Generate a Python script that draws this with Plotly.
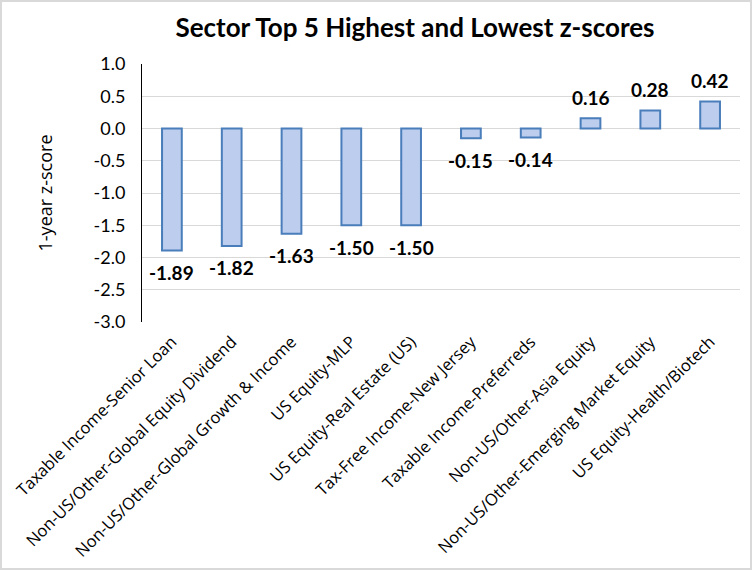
import plotly.graph_objects as go

categories = [
    "Taxable Income-Senior Loan",
    "Non-US/Other-Global Equity Dividend",
    "Non-US/Other-Global Growth & Income",
    "US Equity-MLP",
    "US Equity-Real Estate (US)",
    "Tax-Free Income-New Jersey",
    "Taxable Income-Preferreds",
    "Non-US/Other-Asia Equity",
    "Non-US/Other-Emerging Market Equity",
    "US Equity-Health/Biotech",
]
zscores = [-1.89, -1.82, -1.63, -1.50, -1.50, -0.15, -0.14, 0.16, 0.28, 0.42]
y_ticks = [1.0, 0.5, 0.0, -0.5, -1.0, -1.5, -2.0, -2.5, -3.0]

W, H = 752, 570
ML, MR, MT, MB = 142, 12, 64, 248
PW = W - ML - MR
PH = H - MT - MB

fig = go.Figure()
fig.add_trace(go.Bar(
    x=categories, y=zscores, width=0.33,
    marker=dict(color="#bccdee", line=dict(color="#4a7ebb", width=2)),
    hoverinfo="x+y",
))

for c, v in zip(categories, zscores):
    fig.add_annotation(
        x=c, y=v, text=f"<b>{v:.2f}</b>", showarrow=False,
        yanchor="middle", yshift=21 if v > 0 else -22,
        font=dict(family="Lato, sans-serif", size=19, color="#000000"),
    )

fig.add_shape(
    type="rect", xref="paper", yref="paper",
    xsizemode="pixel", ysizemode="pixel", xanchor=0, yanchor=0,
    x0=-ML + 1, x1=PW + MR - 1, y0=-MB + 1, y1=PH + MT - 1,
    line=dict(color="#d9d9d9", width=2), layer="below",
)

fig.update_layout(
    width=W, height=H,
    margin=dict(l=ML, r=MR, t=MT, b=MB, autoexpand=False),
    paper_bgcolor="white", plot_bgcolor="white",
    showlegend=False,
    bargap=0.67,
    title=dict(
        text="<b>Sector Top 5 Highest and Lowest z-scores</b>",
        x=415 / W, xanchor="center", xref="container",
        y=1 - 28 / H, yanchor="middle", yref="container",
        font=dict(family="Lato, sans-serif", size=26, color="#000000"),
    ),
    font=dict(family="Lato, sans-serif", color="#000000"),
)
fig.update_xaxes(
    tickangle=-45, tickfont=dict(family="Open Sans, sans-serif", size=16.5, color="#000000"),
    ticklabelstandoff=6,
    showgrid=False, showline=False, ticks="",
)
fig.update_yaxes(
    range=[-3.0, 1.0], tickvals=y_ticks, ticktext=[f"{t:.1f}" for t in y_ticks],
    tickfont=dict(family="Lato, sans-serif", size=18, color="#000000"),
    ticklabelstandoff=12,
    showgrid=True, gridcolor="#d9d9d9", gridwidth=1,
    zeroline=True, zerolinecolor="#d9d9d9", zerolinewidth=1,
    showline=True, linecolor="#000000", linewidth=1,
    ticks="", ticklen=0,
    title=dict(text="1-year z-score", standoff=36,
               font=dict(family="Open Sans, sans-serif", size=18, color="#000000")),
)

fig.write_html("out.html", config={"displayModeBar": False},
               post_script="document.body.style.margin='0';")
